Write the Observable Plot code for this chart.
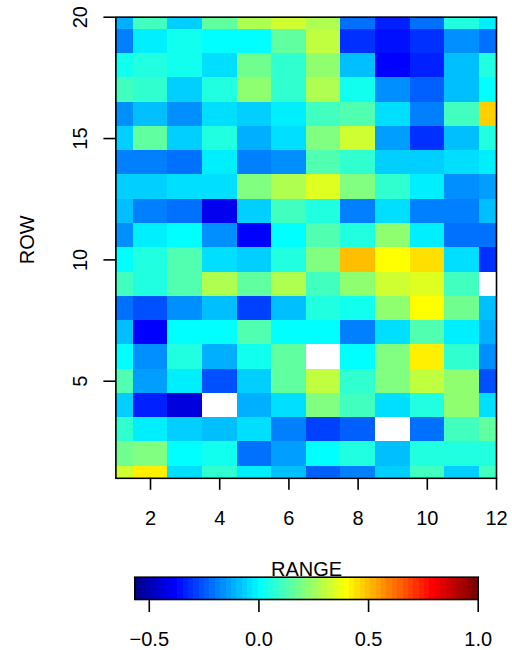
<!DOCTYPE html>
<html><head><meta charset="utf-8">
<script src="https://cdn.jsdelivr.net/npm/d3@7"></script>
<script src="https://cdn.jsdelivr.net/npm/@observablehq/plot@0.6"></script>
<style>
body{margin:0;background:#fff;color:#000}
#chart{position:relative;width:512px;height:650px;background:#fff}
#chart svg{position:absolute;left:0}
</style>
</head><body><div id="chart"></div>
<script>
const columnIds = [1,2,3,4,5,6,7,8,9,10,11,12];
const rowIds = [20,19,18,17,16,15,14,13,12,11,10,9,8,7,6,5,4,3,2,1];
// values by row, top (row 20) to bottom (row 1); null = missing
const rowValues = [
  [-0.116,0.105,-0.067,0.154,0.276,0.325,0.276,-0.214,-0.337,-0.214,0.056,-0.018],
  [-0.190,-0.018,0.031,0.007,0.007,0.154,0.301,-0.312,-0.361,-0.312,-0.165,-0.214],
  [0.031,0.056,0.031,-0.043,0.178,0.080,0.227,-0.092,-0.386,-0.337,-0.092,0.056],
  [0.105,0.080,-0.067,0.056,0.227,0.080,0.276,0.031,-0.165,-0.239,-0.092,0.007],
  [-0.165,-0.092,-0.165,-0.043,-0.067,-0.018,0.105,0.129,-0.043,-0.190,0.105,0.473],
  [-0.067,0.154,-0.067,0.056,-0.116,-0.043,0.203,0.325,-0.141,-0.312,-0.092,0.056],
  [-0.190,-0.190,-0.214,-0.018,-0.190,-0.165,0.129,0.080,-0.067,-0.067,-0.043,-0.018],
  [-0.067,-0.067,-0.043,-0.043,0.203,0.276,0.350,0.203,0.080,-0.018,-0.165,-0.141],
  [-0.092,-0.190,-0.214,-0.410,-0.067,0.105,0.056,-0.190,-0.043,-0.190,-0.190,-0.092],
  [-0.165,-0.018,0.007,-0.165,-0.386,0.007,0.129,0.056,0.227,-0.018,-0.214,-0.214],
  [0.007,0.056,0.129,-0.043,-0.067,0.056,0.203,0.497,0.399,0.448,-0.043,-0.312],
  [0.105,0.056,0.129,0.276,0.154,0.276,0.105,0.227,0.325,0.350,0.105,null],
  [-0.214,-0.263,-0.165,-0.092,-0.288,-0.092,0.056,0.031,0.227,0.399,0.178,-0.092],
  [-0.092,-0.386,0.007,0.007,0.129,0.007,0.007,-0.190,-0.043,0.129,-0.018,-0.116],
  [0.007,-0.165,0.056,-0.116,0.031,0.154,null,0.007,0.203,0.424,0.080,-0.165],
  [0.129,-0.141,-0.018,-0.263,-0.067,0.154,0.301,0.080,0.203,0.301,0.227,-0.263],
  [-0.067,-0.337,-0.435,null,-0.116,-0.043,0.203,0.105,-0.043,0.056,0.227,-0.043],
  [0.080,-0.018,-0.067,-0.092,-0.043,-0.190,-0.288,-0.239,null,-0.214,0.105,0.154],
  [0.178,0.203,0.007,0.031,-0.214,-0.141,0.007,0.056,-0.092,0.056,0.056,0.056],
  [0.325,0.424,-0.043,0.080,-0.018,-0.092,-0.239,-0.190,-0.067,0.105,-0.067,0.105]
];
const xTicks = [2,4,6,8,10,12];
const yTicks = [5,10,15,20];
const legendTicks = [-0.5,0,0.5,1];
const zLimits = [-0.566, 1.0];
const yLabel = "ROW";
const legendTitle = "RANGE";
const timColors = ["#00008F","#00009F","#0000AF","#0000BF","#0000CF","#0000DF","#0000EF","#0000FF",
"#0010FF","#0020FF","#0030FF","#0040FF","#0050FF","#0060FF","#0070FF","#0080FF",
"#008FFF","#009FFF","#00AFFF","#00BFFF","#00CFFF","#00DFFF","#00EFFF","#00FFFF",
"#10FFEF","#20FFDF","#30FFCF","#40FFBF","#50FFAF","#60FF9F","#70FF8F","#80FF80",
"#8FFF70","#9FFF60","#AFFF50","#BFFF40","#CFFF30","#DFFF20","#EFFF10","#FFFF00",
"#FFEF00","#FFDF00","#FFCF00","#FFBF00","#FFAF00","#FF9F00","#FF8F00","#FF8000",
"#FF7000","#FF6000","#FF5000","#FF4000","#FF3000","#FF2000","#FF1000","#FF0000",
"#EF0000","#DF0000","#CF0000","#BF0000","#AF0000","#9F0000","#8F0000","#800000"];

const cells = [];
rowValues.forEach((vals, i) => vals.forEach((v, j) => {
  if (v != null) cells.push({col: columnIds[j], row: rowIds[i], value: v});
}));
const nColors = timColors.length;
const binW = (zLimits[1] - zLimits[0]) / nColors;
const thresholds = d3.range(1, nColors).map(k => zLimits[0] + k * binW);
const colorScale = {type: "threshold", domain: thresholds, range: timColors};
const font = "'Liberation Sans', Arial, Helvetica, sans-serif";
const sw = 1.6;

const main = Plot.plot({
  width: 512, height: 560,
  marginLeft: 115.4, marginRight: 16, marginTop: 16.7, marginBottom: 560 - 477.8,
  x: {domain: [1, 12], label: null},
  y: {domain: [1, 20], label: null},
  color: colorScale,
  style: {fontFamily: font, fontSize: "20px", background: "transparent", overflow: "visible", color: "black"},
  marks: [
    Plot.rect(cells, {x1: d => d.col - 0.5, x2: d => d.col + 0.5, y1: d => d.row - 0.5, y2: d => d.row + 0.5,
      fill: "value", clip: true, shapeRendering: "crispEdges"}),
    Plot.frame({stroke: "black", strokeWidth: sw}),
    Plot.axisX({ticks: xTicks, tickSize: 12, tickPadding: 20, fontSize: 20, strokeWidth: sw, label: null}),
    Plot.axisY({ticks: yTicks, tickSize: 12, tickFormat: () => "", strokeWidth: sw, label: null}),
    Plot.text(yTicks, {y: d => d, text: d => String(d), frameAnchor: "left", dx: -35, rotate: -90,
      textAnchor: "middle", lineAnchor: "middle", fontSize: 20, fill: "black"}),
    Plot.text([yLabel], {text: d => d, frameAnchor: "left", dx: -88, dy: -8, rotate: -90,
      textAnchor: "middle", lineAnchor: "middle", fontSize: 20, fill: "black"})
  ]
});

const bins = d3.range(nColors).map(k => ({
  x1: zLimits[0] + k * binW, x2: zLimits[0] + (k + 1) * binW, mid: zLimits[0] + (k + 0.5) * binW
}));
const legend = Plot.plot({
  width: 512, height: 90,
  marginLeft: 134.3, marginRight: 512 - 477.7, marginTop: 16.7, marginBottom: 90 - 39,
  x: {domain: zLimits, label: null},
  color: colorScale,
  style: {fontFamily: font, fontSize: "20px", background: "transparent", overflow: "visible", color: "black"},
  marks: [
    Plot.rect(bins, {x1: "x1", x2: "x2", fill: "mid", shapeRendering: "crispEdges"}),
    Plot.frame({stroke: "black", strokeWidth: sw}),
    Plot.axisX({ticks: legendTicks, tickSize: 13, tickPadding: 19.5, tickFormat: d3.format(".1f"),
      fontSize: 20, strokeWidth: sw, label: null}),
    Plot.text([legendTitle], {text: d => d, frameAnchor: "top", dy: -1, lineAnchor: "bottom", fontSize: 20, fill: "black"})
  ]
});

const chart = document.getElementById("chart");
main.style.top = "0px";
legend.style.top = "560px";
chart.appendChild(main);
chart.appendChild(legend);
</script>
</body></html>
